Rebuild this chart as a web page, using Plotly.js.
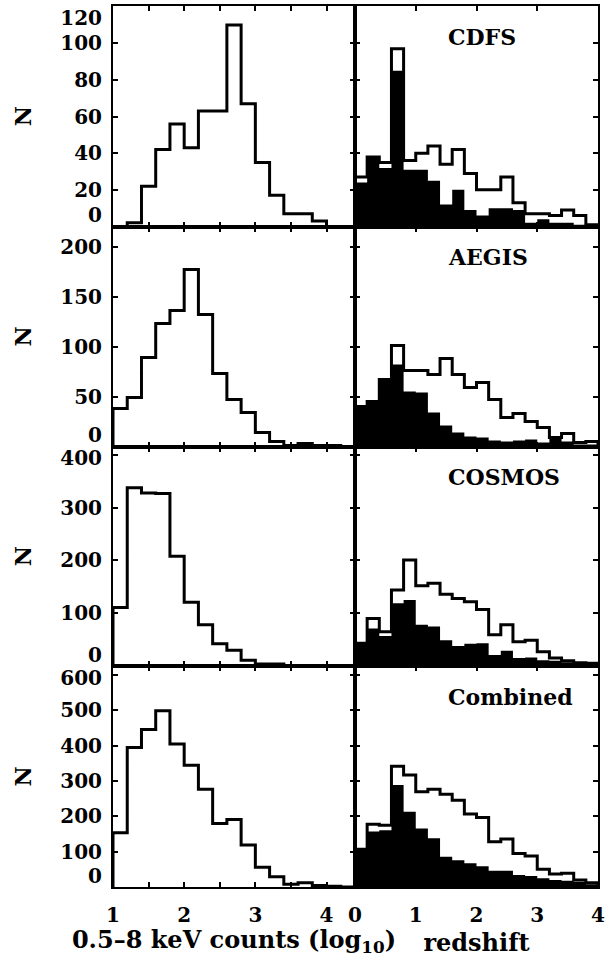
<!DOCTYPE html>
<html>
<head>
<meta charset="utf-8">
<script src="https://cdn.plot.ly/plotly-3.0.1.min.js"></script>
<style>html,body{margin:0;padding:0;background:#fff}#chart{width:616px;height:957px}</style>
</head>
<body>
<div id="chart"></div>
<script>
// ---------- DATA ----------
const binWidth = 0.2;
// lower edges of log10(0.5-8 keV counts) bins
const countBins = [1.0,1.2,1.4,1.6,1.8,2.0,2.2,2.4,2.6,2.8,3.0,3.2,3.4,3.6,3.8,4.0,4.2];
// lower edges of redshift bins
const zBins = [0.0,0.2,0.4,0.6,0.8,1.0,1.2,1.4,1.6,1.8,2.0,2.2,2.4,2.6,2.8,3.0,3.2,3.4,3.6,3.8];

const panelNames = ['CDFS','AEGIS','COSMOS','Combined'];

// counts histograms (left column)
const cdfsCounts     = [0,2,22,42,56,43,63,63,110,67,35,17,7,7,3,0,0];
const aegisCounts    = [38,49,89,123,136,177,132,73,47,34,14,5,1,3,1,1,0];
const cosmosCounts   = [111,338,328,327,208,121,78,42,30,11,4,4,1,0,0,0,0];
const combinedCounts = [154,395,446,499,405,345,277,180,191,119,56,29,8,12,4,2,0];

// redshift histograms (right column): all sources (open) and subset (filled)
const cdfsZAll      = [27,38,35,97,36,40,44,34,42,29,20,20,27,13,7,7,6,9,6,1];
const cdfsZSub      = [24,38,32,85,31,31,25,12,20,9,6,10,10,9,2,4,2,2,1,0];
const aegisZAll     = [40,45,67,101,76,76,72,88,72,59,64,47,29,33,25,19,9,13,4,5];
const aegisZSub     = [40,45,67,82,55,54,34,21,14,10,9,6,5,6,7,4,9,5,2,2];
const cosmosZAll    = [43,90,65,144,201,152,157,136,128,122,107,59,78,46,49,27,15,10,6,5];
const cosmosZSub    = [43,71,57,119,125,78,75,49,38,42,43,21,29,15,16,11,10,7,5,4];
const combinedZAll  = [107,178,175,342,317,270,277,263,246,207,197,128,136,95,88,50,37,39,20,12];
const combinedZSub  = [107,157,161,289,213,166,138,86,76,67,59,46,46,34,31,25,20,18,15,8];

// y-axis tick labels per row
const yTicksRow1 = [0,20,40,60,80,100,120];
const yTicksRow2 = [0,50,100,150,200];
const yTicksRow3 = [0,100,200,300,400];
const yTicksRow4 = [0,100,200,300,400,500,600];
const xTicksCounts = [1,2,3,4];
const xTicksZ = [0,1,2,3,4];

// ---------- LAYOUT HELPERS ----------
const W = 616, H = 957;
const countsHist = [cdfsCounts, aegisCounts, cosmosCounts, combinedCounts];
const zAll = [cdfsZAll, aegisZAll, cosmosZAll, combinedZAll];
const zSub = [cdfsZSub, aegisZSub, cosmosZSub, combinedZSub];
const yTicks = [yTicksRow1, yTicksRow2, yTicksRow3, yTicksRow4];
const yMax = [120.4, 220, 416, 626];
const colPx = [[113, 355], [355, 598]];
const rowTop = [6, 226.5, 446.5, 666];
const rowBot = [226.5, 446.5, 666, 887];

function stepXY(lo, vals) {
  const end = lo[lo.length - 1] + binWidth;
  const x = [lo[0]].concat(lo, [end, end]);
  const y = [0].concat(vals, [vals[vals.length - 1], 0]);
  return {x, y};
}

const FONT = 'DejaVu Serif';
const tickFont = {family: FONT, size: 20, color: 'black', weight: 'bold'};

const traces = [];
const layout = {
  width: W, height: H,
  margin: {l: 0, r: 0, t: 0, b: 0},
  paper_bgcolor: 'white', plot_bgcolor: 'white',
  showlegend: false,
  annotations: []
};

const axBase = {
  showline: true, linecolor: 'black', linewidth: 2, mirror: 'ticks',
  ticks: 'inside', ticklen: 5, tickwidth: 2, tickcolor: 'black',
  showgrid: false, zeroline: false, fixedrange: true, tickfont: tickFont
};

for (let r = 0; r < 4; r++) {
  const yDom = [1 - rowBot[r] / H, 1 - rowTop[r] / H];
  const hPx = rowBot[r] - rowTop[r];
  for (let c = 0; c < 2; c++) {
    const n = r * 2 + c + 1;
    const xa = 'x' + n, ya = 'y' + n;
    const xDom = [colPx[c][0] / W, colPx[c][1] / W];
    const xKey = 'xaxis' + n, yKey = 'yaxis' + n;

    if (c === 0) {
      layout[xKey] = Object.assign({}, axBase, {
        domain: xDom, anchor: ya, range: [1, 4.4],
        tickmode: 'array', tickvals: xTicksCounts, ticktext: xTicksCounts.map(String),
        minor: {ticks: 'inside', ticklen: 5, tickwidth: 2, tickcolor: 'black', dtick: 0.5, tick0: 0, showgrid: false},
        showticklabels: r === 3, ticklabelstandoff: 9
      });
      const s = stepXY(countBins, countsHist[r]);
      traces.push({type: 'scatter', mode: 'lines', x: s.x, y: s.y, xaxis: xa, yaxis: ya,
        line: {shape: 'hv', color: 'black', width: 3}, hoverinfo: 'skip'});
    } else {
      layout[xKey] = Object.assign({}, axBase, {
        domain: xDom, anchor: ya, range: [0, 4],
        tickmode: 'array', tickvals: xTicksZ, ticktext: xTicksZ.map(String),
        showticklabels: r === 3, ticklabelstandoff: 9
      });
      const f = stepXY(zBins, zSub[r]);
      traces.push({type: 'scatter', mode: 'lines', x: f.x, y: f.y, xaxis: xa, yaxis: ya,
        line: {shape: 'hv', color: 'black', width: 0}, fill: 'tozeroy', fillcolor: 'black', hoverinfo: 'skip'});
      const s = stepXY(zBins, zAll[r]);
      traces.push({type: 'scatter', mode: 'lines', x: s.x, y: s.y, xaxis: xa, yaxis: ya,
        line: {shape: 'hv', color: 'black', width: 3}, hoverinfo: 'skip'});
      layout.annotations.push({
        xref: xa + ' domain', yref: ya + ' domain', x: 0.376, y: 0.86,
        xanchor: 'left', yanchor: 'middle', showarrow: false,
        text: panelNames[r], font: {family: FONT, size: 22, color: 'black', weight: 'bold'}
      });
    }
    layout[yKey] = Object.assign({}, axBase, {
      domain: yDom, anchor: xa, range: [0, yMax[r]],
      tickmode: 'array', tickvals: yTicks[r], showticklabels: false
    });
    if (r === 3) {
      layout[xKey].title = {
        text: c === 0 ? '0.5–8 keV counts (log<sub>10</sub>)' : 'redshift',
        font: {family: FONT, size: 24, color: 'black', weight: 'bold'}, standoff: 10
      };
    }
  }
  // label axis (tick labels kept inside the panel's extent, as in the original)
  const n0 = r * 2 + 1;
  const pad = 11.5 * yMax[r] / hPx;
  const labPos = yTicks[r].map(v => Math.min(Math.max(v, pad), yMax[r] - pad));
  layout['yaxis' + (9 + r)] = {
    overlaying: 'y' + n0, anchor: 'x' + n0, side: 'left', range: [0, yMax[r]],
    tickmode: 'array', tickvals: labPos, ticktext: yTicks[r].map(String),
    ticks: '', showline: false, showgrid: false, zeroline: false, fixedrange: true,
    tickfont: tickFont, ticklabelstandoff: 10,
    title: {text: 'N', font: {family: FONT, size: 22, color: 'black', weight: 'bold'}, standoff: 22}
  };
}
// invisible traces so the label axes are drawn
for (let r = 0; r < 4; r++) {
  traces.push({type: 'scatter', mode: 'none', x: [], y: [], xaxis: 'x' + (r * 2 + 1), yaxis: 'y' + (9 + r), hoverinfo: 'skip'});
}

Plotly.newPlot('chart', traces, layout, {staticPlot: true, displayModeBar: false});
</script>
</body>
</html>
